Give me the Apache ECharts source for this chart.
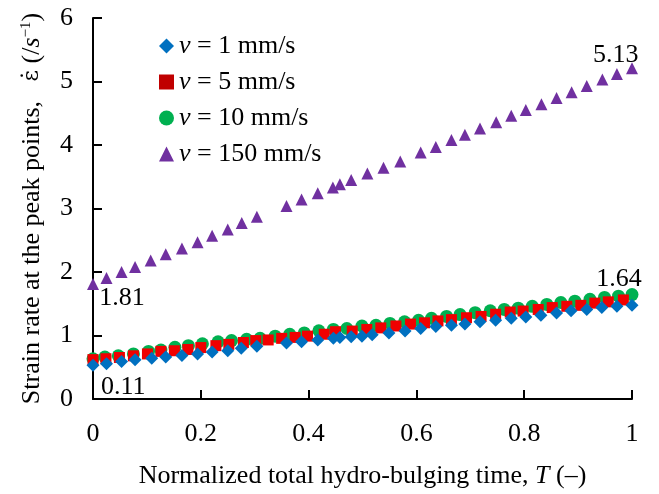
<!DOCTYPE html>
<html>
<head>
<meta charset="utf-8">
<script src="https://cdn.jsdelivr.net/npm/echarts@6/dist/echarts.min.js"></script>
<style>
  html, body { margin: 0; padding: 0; background: #fff; }
  #chart { width: 659px; height: 494px; }
</style>
</head>
<body>
<div id="chart"></div>
<script>
// v = 1 mm/s (diamonds)
const tBlue = [0, 0.025, 0.053, 0.078, 0.109, 0.135, 0.165, 0.194, 0.221, 0.25, 0.275, 0.304,
  0.359, 0.387, 0.417, 0.446, 0.458, 0.479, 0.499, 0.518, 0.549, 0.579, 0.608, 0.636, 0.665,
  0.69, 0.718, 0.747, 0.776, 0.803, 0.831, 0.86, 0.887, 0.916, 0.944, 0.972, 1]
const vBlue = [0.53, 0.555, 0.59, 0.62, 0.64, 0.66, 0.685, 0.71, 0.74, 0.76, 0.8, 0.83,
  0.88, 0.9, 0.93, 0.955, 0.97, 0.98, 0.99, 1.01, 1.04, 1.07, 1.11, 1.14, 1.16,
  1.18, 1.215, 1.24, 1.27, 1.29, 1.32, 1.355, 1.39, 1.41, 1.44, 1.46, 1.475]

// v = 5 mm/s (squares)
const tRed = [0, 0.024, 0.049, 0.075, 0.101, 0.126, 0.151, 0.176, 0.2, 0.228, 0.252, 0.279,
  0.302, 0.325, 0.35, 0.375, 0.398, 0.429, 0.45, 0.481, 0.508, 0.534, 0.562, 0.589, 0.615,
  0.64, 0.665, 0.693, 0.72, 0.747, 0.774, 0.798, 0.826, 0.852, 0.879, 0.905, 0.931, 0.956, 0.984]
const vRed = [0.62, 0.634, 0.654, 0.68, 0.71, 0.75, 0.76, 0.78, 0.81, 0.84, 0.86, 0.89,
  0.92, 0.93, 0.955, 0.97, 0.99, 1.02, 1.06, 1.07, 1.095, 1.12, 1.15, 1.18, 1.2,
  1.23, 1.25, 1.28, 1.3, 1.335, 1.37, 1.385, 1.41, 1.44, 1.46, 1.475, 1.51, 1.53, 1.56]

// v = 10 mm/s (circles)
const tGreen = [0, 0.022, 0.047, 0.075, 0.103, 0.126, 0.152, 0.177, 0.203, 0.232, 0.257, 0.285,
  0.31, 0.338, 0.365, 0.392, 0.419, 0.446, 0.471, 0.499, 0.525, 0.551, 0.578, 0.604, 0.628,
  0.656, 0.681, 0.709, 0.737, 0.763, 0.789, 0.815, 0.842, 0.868, 0.894, 0.922, 0.949, 0.975, 1]
const vGreen = [0.634, 0.66, 0.68, 0.71, 0.75, 0.77, 0.815, 0.84, 0.87, 0.9, 0.92, 0.94,
  0.955, 0.99, 1.02, 1.04, 1.075, 1.095, 1.11, 1.15, 1.16, 1.19, 1.215, 1.24, 1.27,
  1.3, 1.33, 1.36, 1.39, 1.41, 1.43, 1.46, 1.49, 1.52, 1.54, 1.57, 1.6, 1.62, 1.645]

// v = 150 mm/s (triangles)
const tPurple = [0, 0.025, 0.053, 0.078, 0.107, 0.135, 0.165, 0.194, 0.221, 0.25, 0.276, 0.304,
  0.359, 0.387, 0.417, 0.445, 0.458, 0.479, 0.509, 0.539, 0.57, 0.608, 0.636, 0.665,
  0.69, 0.718, 0.748, 0.776, 0.803, 0.832, 0.86, 0.888, 0.916, 0.945, 0.972, 1]
const vPurple = [1.81, 1.905, 2.0, 2.08, 2.18, 2.28, 2.37, 2.47, 2.57, 2.67, 2.77, 2.87,
  3.04, 3.14, 3.24, 3.33, 3.38, 3.45, 3.55, 3.64, 3.74, 3.88, 3.97, 4.08,
  4.16, 4.26, 4.36, 4.46, 4.55, 4.64, 4.74, 4.83, 4.93, 5.03, 5.12, 5.21]

const seriesNames = ['v = 1 mm/s', 'v = 5 mm/s', 'v = 10 mm/s', 'v = 150 mm/s']

// value callouts (text + where they sit in data units)
const noteText = ['5.13', '1.64', '1.81', '0.11']
const noteT = [0.97, 0.976, 0.054, 0.056]
const noteV = [5.42, 1.885, 1.58, 0.19]

const FONT = 'Liberation Serif'
const FS = 26
const pair = (xs, ys) => xs.map((x, i) => [x, ys[i]])
const italic = { fontFamily: FONT, fontSize: FS, fontStyle: 'italic' }

const chart = echarts.init(document.getElementById('chart'), null, { renderer: 'canvas' })

chart.setOption({
  animation: false,
  textStyle: { fontFamily: FONT, color: '#000' },
  grid: { left: 93, right: 27, top: 18, bottom: 91 },
  legend: {
    orient: 'vertical',
    left: 154,
    top: 28,
    itemGap: 10,
    itemWidth: 15,
    itemHeight: 15,
    textStyle: {
      fontFamily: FONT,
      fontSize: FS,
      color: '#000',
      rich: { i: italic },
    },
    formatter: (name) => name.replace(/^v/, '{i|v}'),
    data: [
      { name: seriesNames[0] },
      { name: seriesNames[1], itemStyle: { color: '#C00000' } },
      { name: seriesNames[2] },
      { name: seriesNames[3] },
    ],
  },
  xAxis: {
    type: 'value',
    min: 0,
    max: 1,
    interval: 0.2,
    name: 'Normalized total hydro-bulging time, {i|T} (–)',
    nameLocation: 'middle',
    nameGap: 64,
    nameTextStyle: {
      fontFamily: FONT,
      fontSize: FS,
      color: '#000',
      rich: { i: italic },
    },
    axisLine: { lineStyle: { color: '#000', width: 2 } },
    axisTick: { inside: true, length: 9, lineStyle: { color: '#000', width: 2 } },
    axisLabel: { fontFamily: FONT, fontSize: FS, color: '#000', margin: 22 },
    splitLine: { show: false },
  },
  yAxis: {
    type: 'value',
    min: 0,
    max: 6,
    interval: 1,
    name: 'Strain rate at the peak points,   {e|ε̇} (/{i|s}{sup|−1})',
    nameLocation: 'middle',
    nameRotate: 90,
    nameGap: 48,
    nameTextStyle: {
      fontFamily: FONT,
      fontSize: FS,
      color: '#000',
      rich: {
        i: italic,
        e: { fontFamily: 'DejaVu Serif', fontSize: 22 },
        sup: { fontFamily: FONT, fontSize: 15, verticalAlign: 'top' },
      },
    },
    axisLine: { show: true, lineStyle: { color: '#000', width: 2 } },
    axisTick: { show: true, inside: true, length: 9, lineStyle: { color: '#000', width: 2 } },
    axisLabel: { fontFamily: FONT, fontSize: FS, color: '#000', margin: 20 },
    splitLine: { show: false },
  },
  series: [
    {
      name: seriesNames[0],
      type: 'scatter',
      symbol: 'diamond',
      symbolSize: 13,
      itemStyle: { color: '#0070C0', opacity: 1 },
      data: pair(tBlue, vBlue),
      z: 4,
    },
    {
      name: seriesNames[1],
      type: 'scatter',
      symbol: 'rect',
      symbolSize: 11,
      itemStyle: { color: '#F00000', opacity: 1 },
      data: pair(tRed, vRed),
      z: 3,
    },
    {
      name: seriesNames[2],
      type: 'scatter',
      symbol: 'circle',
      symbolSize: 13,
      itemStyle: { color: '#00B050', opacity: 1 },
      data: pair(tGreen, vGreen),
      z: 2,
    },
    {
      name: seriesNames[3],
      type: 'scatter',
      symbol: 'triangle',
      symbolSize: 12,
      itemStyle: { color: '#7030A0', opacity: 1 },
      data: pair(tPurple, vPurple),
      z: 2,
    },
    {
      name: 'notes',
      type: 'scatter',
      symbolSize: 0,
      silent: true,
      itemStyle: { opacity: 1 },
      data: noteT.map((t, i) => ({ value: [t, noteV[i]], label: { formatter: noteText[i] } })),
      label: {
        show: true,
        position: 'inside',
        fontFamily: FONT,
        fontSize: FS,
        color: '#000',
        opacity: 1,
      },
    },
  ],
})
</script>
</body>
</html>
